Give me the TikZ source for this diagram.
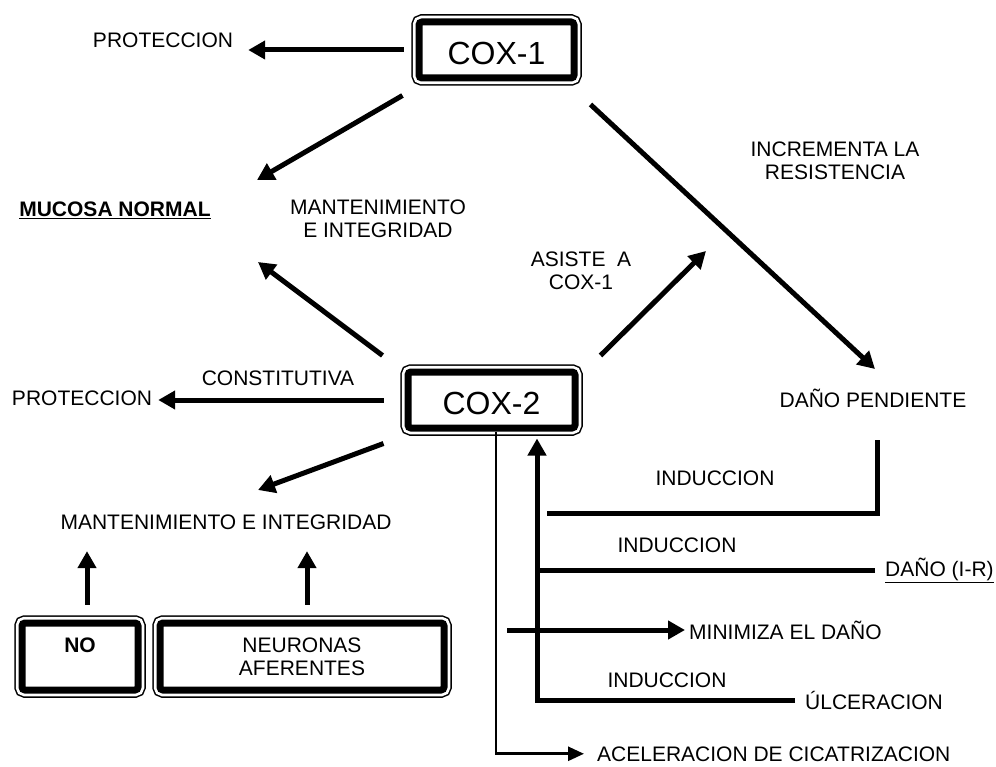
\documentclass[tikz,border=0pt]{standalone}
\usepackage{fontspec}
\setmainfont{Liberation Sans}
\usetikzlibrary{arrows.meta,calc}

\begin{document}
\begin{tikzpicture}[x=1pt,y=-1pt,
  txt/.style={font=\fontsize{21}{23}\selectfont,inner sep=0pt,align=center},
  caja/.style={fill=white,draw,line width=7pt,rounded corners=3pt,inner sep=0pt,
    preaction={draw=black,line width=15.5pt},
    preaction={draw=white,line width=12.5pt}},
  coxtxt/.style={font=\fontsize{32}{36}\selectfont,text height=29pt},
  flecha/.style={line width=5pt,-{Triangle[length=17pt,width=18pt]}},
  fina/.style={line width=2.7pt,-{Triangle[length=16pt,width=14pt]}},
  linea/.style={line width=5pt}]
\useasboundingbox (0,0) rectangle (996,767);
% cajas
\node[caja,coxtxt,minimum width=155pt,minimum height=56pt] (cox1) at (496.5,50) {COX-1};
\node[caja,coxtxt,minimum width=167pt,minimum height=56pt] (cox2) at (491.5,400) {COX-2};
\node[caja,txt,minimum width=116pt,minimum height=67pt] (no) at (80,656.5) {\textbf{NO}\\\mbox{}};
\node[caja,txt,minimum width=284pt,minimum height=67pt] (neur) at (302,656.5) {NEURONAS\\AFERENTES};
% textos
\node[txt] (prot1) at (163,40) {PROTECCION};
\node[txt] (resist) at (835,161) {INCREMENTA LA\\RESISTENCIA};
\node[txt,font=\fontsize{21}{23}\selectfont\bfseries] (mucosa) at (115,210) {\underline{MUCOSA NORMAL}};
\node[txt] (mant1) at (378,219) {MANTENIMIENTO\\E INTEGRIDAD};
\node[txt] (asiste) at (581,271) {ASISTE\ \ A\\COX-1};
\node[txt] (const) at (278,378) {CONSTITUTIVA};
\node[txt] (prot2) at (82,398) {PROTECCION};
\node[txt] (dpend) at (873,398) {DAÑO PENDIENTE};
\node[txt] (mant2) at (226,522) {MANTENIMIENTO E INTEGRIDAD};
\node[txt] (ind1) at (715,478) {INDUCCION};
\node[txt] (ind2) at (677,545) {INDUCCION};
\node[txt] (ind3) at (667,680) {INDUCCION};
\node[txt,anchor=west] (dir) at (885,570) {\underline{DAÑO (I-R)}};
\node[txt,anchor=west] (minim) at (689,630) {MINIMIZA EL DAÑO};
\node[txt,anchor=west] (ulcer) at (805,700) {ÚLCERACION};
\node[txt,anchor=base west] (acel) at (597,761) {ACELERACION DE CICATRIZACION};
% puntos libres
\coordinate (m1) at (257,180);
\coordinate (m2) at (258,262);
\coordinate (a1) at (706,251);
\coordinate (eje) at ([shift={(45.5,0)}]cox2.south);
\coordinate (eje2) at ([shift={(4.5,0)}]cox2.south);
% cox-1
\draw[flecha,shorten >=15pt] ([xshift=-12pt]cox1.west) -- (cox1.west -| prot1.east);
\draw[flecha] ([shift={(-13,14)}]cox1.south west) -- (m1);
\draw[flecha] ([shift={(13,23)}]cox1.south east) -- ([shift={(2,-29)}]dpend.center);
% cox-2
\draw[flecha] ([shift={(-22,-13)}]cox2.north west) -- (m2);
\draw[flecha] ([shift={(22,-13)}]cox2.north east) -- (a1);
\draw[flecha,shorten >=6pt] ([xshift=-21pt]cox2.west) -- (cox2.west -| prot2.east);
\draw[flecha] ([shift={(-21,12)}]cox2.south west) -- ([shift={(32,-32)}]mant2.center);
% no y neuronas
\draw[flecha,shorten >=21.5pt] ([shift={(7,-15)}]no.north) -- ($(no.north |- mant2.south)+(7,0)$);
\draw[flecha,shorten >=21.5pt] ([shift={(5,-15)}]neur.north) -- ($(neur.north |- mant2.south)+(5,0)$);
% induccion
\draw[fina,shorten >=13pt] (eje2) |- (acel.west);
\draw[flecha] ([xshift=-10pt]ulcer.west) -| ([yshift=-7pt]eje);
\draw[linea] ([shift={(4,42)}]dpend.center) |- ($(eje)+(10,82)$);
\draw[linea] ([xshift=-10pt]dir.west) -- (dir.west -| eje);
\draw[flecha,shorten >=4pt] ($(minim.west -| eje2)+(11,0)$) -- (minim.west);
\end{tikzpicture}
\end{document}
